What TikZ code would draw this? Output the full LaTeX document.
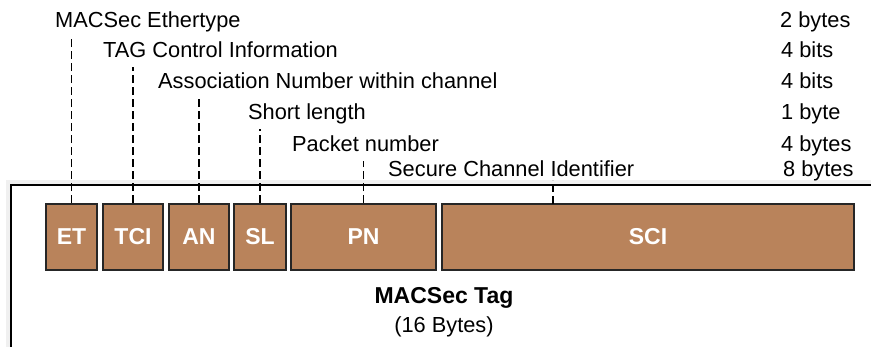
\documentclass[tikz,border=0pt]{standalone}
\usepackage{fontspec}
\setmainfont{Liberation Sans}
\usepackage{xcolor}
\usetikzlibrary{positioning,shadows}

\definecolor{tagbrown}{RGB}{185,131,91}

\begin{document}
\begin{tikzpicture}[
    x=1pt, y=-1pt,
    font=\fontsize{21.8}{24}\selectfont,
    field/.style={rectangle, draw=black!85, fill=tagbrown, line width=1.8pt, minimum height=66pt, inner sep=0pt, text=white, font=\fontsize{23}{26}\selectfont\bfseries},
    namelbl/.style={anchor=base west, inner sep=0pt},
    sizelbl/.style={anchor=base west, inner sep=0pt},
    guide/.style={line width=1.7pt, dash pattern=on 8pt off 4pt, shorten >=10pt}
]
\useasboundingbox (0,0) rectangle (871,346);
\clip (0,0) rectangle (871,346);

% Outer tag frame
\fill[black!12] (8,182) rectangle (900,380);
\fill[black!6] (6,180) rectangle (900,380);
\draw[line width=1.8pt, fill=white] (11,185) rectangle (900,380);

% Field names
\node[namelbl] (ethertype) at (55,27) {MACSec Ethertype};
\node[namelbl] (tagctrl) at (103,57) {TAG Control Information};
\node[namelbl] (assocnum) at (158,88) {Association Number within channel};
\node[namelbl] (shortlen) at (248,119) {Short length};
\node[namelbl] (pktnum) at (292,151) {Packet number};
\node[namelbl] (chanid) at (388,176) {Secure Channel Identifier};

% Field sizes
\node[sizelbl] (sz_et) at (780,27) {2 bytes};
\node[sizelbl] (sz_tci) at (781,57) {4 bits};
\node[sizelbl] (sz_an) at (781,88) {4 bits};
\node[sizelbl] (sz_sl) at (781,119) {1 byte};
\node[sizelbl] (sz_pn) at (781,151) {4 bytes};
\node[sizelbl] (sz_sci) at (783,176) {8 bytes};

% Tag fields
\node[field, minimum width=51pt] (et) at (71.5,237) {ET};
\node[field, minimum width=60pt] (tci) at (133,237) {TCI};
\node[field, minimum width=60pt] (an) at (199,237) {AN};
\node[field, minimum width=52pt] (sl) at (260,237) {SL};
\node[field, minimum width=145pt] (pn) at (363.5,237) {PN};
\node[field, minimum width=412pt] (sci) at (648,237) {SCI};
\coordinate (sci_in) at (553,204);

% Guide lines
\draw[guide] (et.north) -- (et.north |- ethertype.base);
\draw[guide] (tci.north) -- (tci.north |- tagctrl.base);
\draw[guide] (an.north) -- (an.north |- assocnum.base);
\draw[guide] (sl.north) -- (sl.north |- shortlen.base);
\draw[guide] (pn.north) -- (pn.north |- pktnum.base);
\draw[guide, shorten >=4pt] (sci_in) -- (sci_in |- chanid.base);

% Caption
\node[inner sep=0pt, anchor=base, font=\fontsize{23}{26}\selectfont\bfseries] (caption) at (444,303) {MACSec Tag};
\node[inner sep=0pt, anchor=base] (bytes) at (444,332) {(16 Bytes)};

\end{tikzpicture}
\end{document}
